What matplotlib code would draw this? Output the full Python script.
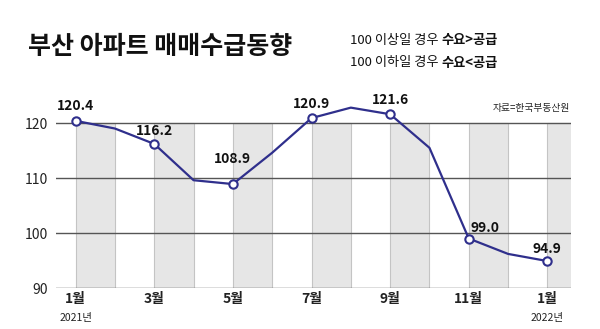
import matplotlib
matplotlib.use("Agg")
import matplotlib.pyplot as plt

plt.rcParams['font.family'] = ['Noto Sans CJK KR', 'DejaVu Sans']

months = list(range(13))
values = [120.4, 119.0, 116.2, 109.6, 108.9, 114.6, 120.9, 122.8, 121.6, 115.5, 99.0, 96.2, 94.9]
labeled_idx = [0, 2, 4, 6, 8, 10, 12]
tick_labels = ['1월', '3월', '5월', '7월', '9월', '11월', '1월']
year_labels = {0: '2021년', 12: '2022년'}
yticks = [90, 100, 110, 120]

navy = '#2f2f8c'

fig = plt.figure(figsize=(6.0, 3.29), dpi=100)
ax = fig.add_axes([0.0933, 0.1246, 0.8583, 0.585])
ax.set_xlim(-0.5, 12.6)
ax.set_ylim(90, 125)

# gray bands
for i in labeled_idx:
    ax.bar(i, 30, width=1.0, bottom=90, align='edge', color='#e6e6e6',
           edgecolor='#c4c4c4', linewidth=0.8, zorder=0)

for y in yticks:
    ax.axhline(y, color='#555555', linewidth=1.0, zorder=1)

ax.plot(months, values, color=navy, linewidth=1.6, zorder=3)
ax.plot([months[i] for i in labeled_idx], [values[i] for i in labeled_idx], 'o',
        markersize=6, markerfacecolor='white', markeredgecolor=navy,
        markeredgewidth=1.5, zorder=4)

label_offsets = {0: (0, 10.5), 2: (0, 9), 4: (0, 18), 6: (0, 10), 8: (0, 10),
                 10: (12, 7.5), 12: (0, 9)}
for i in labeled_idx:
    ax.annotate(f'{values[i]:.1f}', (months[i], values[i]), xytext=label_offsets[i],
                textcoords='offset points', ha='center', va='center',
                fontsize=10, fontweight='bold', color='#111111', zorder=5)

for s in ax.spines.values():
    s.set_visible(False)
ax.set_yticks(yticks)
ax.set_yticklabels([str(y) for y in yticks], fontsize=10, color='#222222')
ax.tick_params(axis='y', length=0, pad=6)
ax.set_xticks(labeled_idx)
ax.set_xticklabels(tick_labels, fontsize=10, fontweight='bold', color='#222222')
ax.tick_params(axis='x', length=0, pad=3)

for i, t in year_labels.items():
    ax.text(months[i], -0.13, t, transform=ax.get_xaxis_transform(),
            ha='center', va='top', fontsize=7.5, color='#222222')

fig.text(0.047, 0.858, '부산 아파트 매매수급동향', fontsize=18, fontweight='bold',
         ha='left', va='center', color='#111111')

# right-side legend texts
def two_part(y, normal, bold):
    t1 = fig.text(0.583, y, normal, fontsize=9.5, ha='left', va='center', color='#111111')
    fig.canvas.draw()
    bb = t1.get_window_extent()
    x2 = bb.x1 / fig.bbox.width
    fig.text(x2, y, bold, fontsize=9.5, fontweight='bold', ha='left', va='center', color='#111111')

two_part(0.878, '100 이상일 경우 ', '수요>공급')
two_part(0.809, '100 이하일 경우 ', '수요<공급')

fig.text(0.95, 0.672, '자료=한국부동산원', fontsize=7, ha='right', va='center', color='#222222')

fig.savefig('out.png', dpi=100, facecolor='white')
